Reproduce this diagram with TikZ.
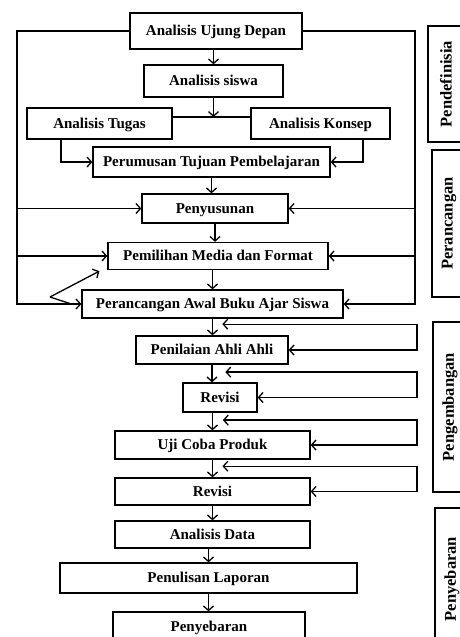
\documentclass[tikz,border=0pt]{standalone}
\usepackage{fontspec}
\setmainfont{Liberation Serif}
\usetikzlibrary{arrows.meta,calc}

\begin{document}
\begin{tikzpicture}[x=1pt,y=-1pt]
		\tikzstyle{every node}=[font=\fontsize{15}{17}\selectfont\bfseries]
		\tikzstyle{kotak} = [draw, align=center, line width=1.3pt, inner sep=0pt, text height=9pt, text depth=0pt]
		\tikzstyle{tahap} = [draw, align=center, line width=1.1pt, rotate=90, inner sep=0pt, font=\fontsize{16.5}{18}\selectfont\bfseries]
		\tikzstyle{flecha} = [->, line width=1.3pt, >={Straight Barb[length=4.5pt,width=10pt]}]
		\tikzstyle{linea} = [line width=1.3pt]

		\useasboundingbox (0,0) rectangle (460,637);

		\draw (216,31) node[kotak, minimum width=172, minimum height=36](ujung){Analisis Ujung Depan};
		\draw (213.5,81) node[kotak, minimum width=139, minimum height=32](siswa){Analisis siswa};
		\draw (99.5,123.5) node[kotak, minimum width=145, minimum height=31](tugas){Analisis Tugas};
		\draw (320.5,123.5) node[kotak, minimum width=139, minimum height=31](konsep){Analisis Konsep};
		\draw (211.5,162) node[kotak, minimum width=237, minimum height=30](rumus){Perumusan Tujuan Pembelajaran};
		\draw (215,208.5) node[kotak, minimum width=146, minimum height=29](susun){Penyusunan};
		\draw (218,256) node[kotak, minimum width=220, minimum height=27](media){Pemilihan Media dan Format};
		\draw (212.5,304) node[kotak, minimum width=261, minimum height=28](rancang){Perancangan Awal Buku Ajar Siswa};
		\draw (212,350) node[kotak, minimum width=152, minimum height=28](nilai){Penilaian Ahli Ahli};
		\draw (220,397.5) node[kotak, minimum width=74, minimum height=29](revisia){Revisi};
		\draw (212.5,445) node[kotak, minimum width=195, minimum height=28](uji){Uji Coba Produk};
		\draw (212.5,491.5) node[kotak, minimum width=195, minimum height=27](revisib){Revisi};
		\draw (212.5,534.5) node[kotak, minimum width=195, minimum height=27](data){Analisis Data};
		\draw (208.5,578) node[kotak, minimum width=297, minimum height=30](tulis){Penulisan Laporan};
		\draw (209,627) node[kotak, minimum width=192, minimum height=30](sebar){Penyebaran};

		% tahap di sisi kanan
		\draw (446,84) node[tahap, minimum width=116, minimum height=36](definisi){Pendefinisia};
		\draw (449,223.5) node[tahap, minimum width=147, minimum height=34](rancangan){Perancangan};
		\draw (450,407) node[tahap, minimum width=170, minimum height=34](kembang){Pengembangan};
		\draw (452,579) node[tahap, minimum width=142, minimum height=34](sebaran){Penyebaran};

		\coordinate (kiri) at (17,33);
		\coordinate (kanan) at (415,33);
		\coordinate (kanan2) at (417,0);
		\coordinate (cabang) at (50,297);
		\coordinate (simpang) at ([yshift=6.5pt]tugas.east);

		\draw[flecha] (ujung.south -| siswa) -- (siswa.north);
		\draw[linea] (simpang) -- (simpang -| konsep.west);
		\draw[flecha] (siswa.south) -- (siswa.south |- simpang);
		\draw[flecha] ([xshift=-38.5pt]tugas.south) |- (rumus.west);
		\draw[flecha] ([xshift=42.5pt]konsep.south) |- (rumus.east);
		\draw[flecha] (rumus.south) -- (rumus.south |- susun.north);
		\draw[flecha] (susun.south) -- (susun.south |- media.north);
		\draw[flecha] (rancang.north |- media.south) -- (rancang.north);
		\draw[flecha] (rancang.south) -- (rancang.south |- nilai.north);
		\draw[flecha] (nilai.south) -- (nilai.south |- revisia.north);
		\draw[flecha] (uji.north |- revisia.south) -- (uji.north);
		\draw[flecha] (uji.south) -- (revisib.north);
		\draw[flecha] (revisib.south) -- (data.north);
		\draw[flecha] (tulis.north |- data.south) -- (tulis.north);
		\draw[flecha] (tulis.south) -- (tulis.south |- sebar.north);

		% putaran luar
		\draw[flecha] (ujung.west) -| (kiri |- rancang) -- (rancang.west);
		\draw[flecha] (ujung.east) -| (kanan |- rancang) -- (rancang.east);
		\draw[flecha] (kiri |- susun) -- (susun.west);
		\draw[flecha] (kiri |- media) -- (media.west);
		\draw[flecha] (kanan |- susun) -- (susun.east);
		\draw[flecha] (kanan |- media) -- (media.east);
		\draw[flecha] (cabang) -- ([xshift=-8pt,yshift=-1pt]media.south west);
		\draw[linea] (cabang) -- ([xshift=-10pt]rancang.west);

		% umpan balik
		\draw[flecha, <->] ($(rancang.south)!0.33!(nilai.north)+(10,0)$) -| (kanan2 |- nilai) -- (nilai.east);
		\draw[flecha, <->] ($(nilai.south)!0.42!(revisia.north)+(10,0)$) -| (kanan2 |- revisia) -- (revisia.east);
		\draw[flecha, <->] ($(revisia.south)!0.42!(uji.north)+(6,0)$) -| (kanan2 |- uji) -- (uji.east);
		\draw[flecha, <->] ($(uji.south)!0.37!(revisib.north)+(10,0)$) -| (kanan2 |- revisib) -- (revisib.east);
	\end{tikzpicture}
\end{document}
